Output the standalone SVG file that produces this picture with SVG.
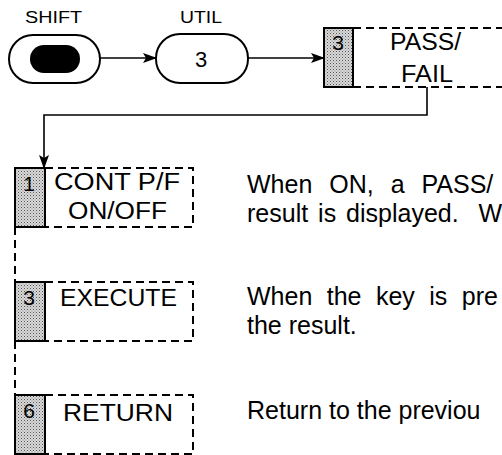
<svg xmlns="http://www.w3.org/2000/svg" width="502" height="455" viewBox="0 0 502 455">
<defs>
<pattern id="dots" width="3" height="3" patternUnits="userSpaceOnUse">
<rect width="3" height="3" fill="#d8d8d8"/>
<rect width="1" height="1" fill="#555"/>
<rect x="1.5" y="1.5" width="1" height="1" fill="#888"/>
</pattern>
<marker id="ah" markerWidth="14" markerHeight="10" refX="13" refY="5" orient="auto" markerUnits="userSpaceOnUse">
<path d="M0,0 L14,5 L0,10 L3,5 Z" fill="#000"/>
</marker>
</defs>
<style>
text{font-family:"Liberation Sans",Arial,sans-serif;fill:#000}
.key{fill:#fff;stroke:#000;stroke-width:2}
.cap{font-size:16px}
.lbl{font-size:23px}
.num{font-size:21px;text-anchor:middle}
.body{font-size:25px}
.gray{fill:url(#dots);stroke:#000;stroke-width:2}
.dash{fill:none;stroke:#000;stroke-width:2;stroke-dasharray:8 5}
.conn{fill:none;stroke:#000;stroke-width:1.6}
</style>

<g id="shift">
<text class="cap" x="25" y="23" textLength="57" lengthAdjust="spacingAndGlyphs">SHIFT</text>
<rect class="key" x="9" y="35" width="91" height="48" rx="24"/>
<rect x="30" y="45" width="50" height="28" rx="14" fill="#000"/>
</g>

<g id="util">
<text class="cap" x="180" y="23" textLength="42" lengthAdjust="spacingAndGlyphs">UTIL</text>
<rect class="key" x="156" y="34" width="92" height="49" rx="24"/>
<text x="201" y="67" font-size="22" text-anchor="middle">3</text>
</g>

<g id="passfail">
<rect class="gray" x="324" y="28" width="29" height="59"/>
<text class="num" x="338" y="50">3</text>
<path class="dash" d="M353,28 H502 M353,87 H502"/>
<text class="lbl" x="390" y="50" textLength="71" lengthAdjust="spacingAndGlyphs">PASS/</text>
<text class="lbl" x="401" y="82" textLength="52" lengthAdjust="spacingAndGlyphs">FAIL</text>
</g>

<g id="contpf">
<rect class="gray" x="15" y="168" width="30" height="59"/>
<text class="num" x="29" y="191">1</text>
<path class="dash" d="M45,168 H193 V227 H45"/>
<text class="lbl" x="54" y="190" textLength="126" lengthAdjust="spacingAndGlyphs">CONT P/F</text>
<text class="lbl" x="68" y="219" textLength="99" lengthAdjust="spacingAndGlyphs">ON/OFF</text>
</g>

<g id="execute">
<rect class="gray" x="15" y="282" width="30" height="59"/>
<text class="num" x="29" y="305">3</text>
<path class="dash" d="M45,282 H193 V341 H45"/>
<text class="lbl" x="60" y="306" textLength="117" lengthAdjust="spacingAndGlyphs">EXECUTE</text>
</g>

<g id="return">
<rect class="gray" x="15" y="395" width="30" height="59"/>
<text class="num" x="29" y="418">6</text>
<path class="dash" d="M45,395 H193 V454 H45"/>
<text class="lbl" x="63" y="421" textLength="110" lengthAdjust="spacingAndGlyphs">RETURN</text>
</g>

<g id="descriptions">
<text class="body" x="247" y="193" word-spacing="10">When ON, a PASS/</text>
<text class="body" x="247" y="222" xml:space="preserve" word-spacing="3">result is displayed.  W</text>
<text class="body" x="247" y="305" word-spacing="7.5">When the key is pre</text>
<text class="body" x="247" y="334">the result.</text>
<text class="body" x="247" y="419">Return to the previou</text>
</g>

<g id="connectors">
<path class="conn" d="M100,58 H156" marker-end="url(#ah)"/>
<path class="conn" d="M248,58 H324" marker-end="url(#ah)"/>
<path class="conn" d="M427,87 V115 H44 V168" marker-end="url(#ah)"/>
<path class="dash" d="M15,227 V282 M15,341 V395"/>
</g>
</svg>
